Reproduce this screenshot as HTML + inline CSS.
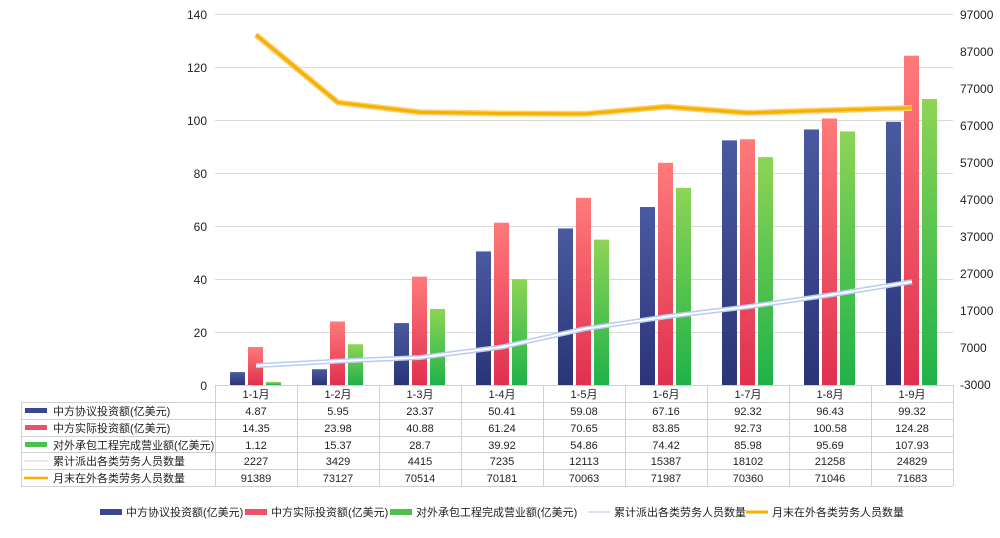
<!DOCTYPE html>
<html><head><meta charset="utf-8"><style>
body{margin:0;background:#fff;}
svg{display:block;font-family:"Liberation Sans","Noto Sans CJK SC",sans-serif;}
</style></head><body>
<svg width="1000" height="538" viewBox="0 0 1000 538" xmlns="http://www.w3.org/2000/svg">
<defs>
<linearGradient id="gb" x1="0" y1="0" x2="0" y2="1"><stop offset="0" stop-color="#4a5aa0"/><stop offset="1" stop-color="#2a3478"/></linearGradient>
<linearGradient id="gr" x1="0" y1="0" x2="0" y2="1"><stop offset="0" stop-color="#ff7a7a"/><stop offset="1" stop-color="#e0304f"/></linearGradient>
<linearGradient id="gg" x1="0" y1="0" x2="0" y2="1"><stop offset="0" stop-color="#8ed455"/><stop offset="1" stop-color="#1fb24a"/></linearGradient>
</defs>
<g stroke="#d9d9d9" stroke-width="1">
<line x1="215" y1="14.5" x2="953" y2="14.5"/><line x1="215" y1="67.5" x2="953" y2="67.5"/><line x1="215" y1="120.5" x2="953" y2="120.5"/><line x1="215" y1="173.5" x2="953" y2="173.5"/><line x1="215" y1="226.5" x2="953" y2="226.5"/><line x1="215" y1="279.5" x2="953" y2="279.5"/><line x1="215" y1="332.5" x2="953" y2="332.5"/>
</g>
<g font-size="12" fill="#222" text-anchor="end">
<text x="207" y="19">140</text><text x="207" y="72">120</text><text x="207" y="125">100</text><text x="207" y="178">80</text><text x="207" y="231">60</text><text x="207" y="284">40</text><text x="207" y="337">20</text><text x="207" y="390">0</text>
</g>
<g font-size="12" fill="#222" text-anchor="start">
<text x="960" y="19">97000</text><text x="960" y="56">87000</text><text x="960" y="93">77000</text><text x="960" y="130">67000</text><text x="960" y="167">57000</text><text x="960" y="204">47000</text><text x="960" y="241">37000</text><text x="960" y="278">27000</text><text x="960" y="315">17000</text><text x="960" y="352">7000</text><text x="960" y="389">-3000</text>
</g>
<g id="bars"></g>
<polyline fill="none" stroke="#fbd070" stroke-width="6" stroke-linejoin="round" id="yl2"/>
<polyline fill="none" stroke="#f6b000" stroke-width="3" stroke-linejoin="round" id="yl"/>
<polyline fill="none" stroke="#b8cdf0" stroke-width="5" stroke-linejoin="round" id="wl2"/>
<polyline fill="none" stroke="#ffffff" stroke-width="2" stroke-linejoin="round" id="wl"/>
<g id="tbl" font-size="11" fill="#222"></g>
<g font-size="11" fill="#222">
<rect x="100" y="509" width="22" height="6" fill="#3a4690"/><text x="126" y="516">中方协议投资额(亿美元)</text>
<rect x="245" y="509" width="22" height="6" fill="#f0506a"/><text x="271" y="516">中方实际投资额(亿美元)</text>
<rect x="390" y="509" width="22" height="6" fill="#4cc24c"/><text x="416" y="516">对外承包工程完成营业额(亿美元)</text>
<line x1="588" y1="512" x2="610" y2="512" stroke="#dde4ef" stroke-width="2"/><text x="614" y="516">累计派出各类劳务人员数量</text>
<line x1="746" y1="512" x2="768" y2="512" stroke="#fbb000" stroke-width="3"/><text x="772" y="516">月末在外各类劳务人员数量</text>
</g>
<script>
var a=[4.87,5.95,23.37,50.41,59.08,67.16,92.32,96.43,99.32],b=[14.35,23.98,40.88,61.24,70.65,83.85,92.73,100.58,124.28],c=[1.12,15.37,28.7,39.92,54.86,74.42,85.98,95.69,107.93],d=[2227,3429,4415,7235,12113,15387,18102,21258,24829],e=[91389,73127,70514,70181,70063,71987,70360,71046,71683];
var ns="http://www.w3.org/2000/svg",W=82,X0=215;
function el(t,at,p,tx){var n=document.createElementNS(ns,t);for(var k in at)n.setAttribute(k,at[k]);if(tx!=null)n.textContent=tx;p.appendChild(n);return n;}
var g=document.getElementById('bars');
function ly(v){return 385-v*371/140;}function ry(v){return 385-(v+3000)*371/100000;}
var yp=[],wp=[];
for(var i=0;i<9;i++){var cx=X0+W*i+W/2;
[[a,'gb',-26],[b,'gr',-8],[c,'gg',10]].forEach(function(s){var v=s[0][i],y=ly(v);el('rect',{x:cx+s[2],y:y,width:15,height:385-y,fill:'url(#'+s[1]+')'},g);});
yp.push(cx+','+ry(e[i]));wp.push(cx+','+ry(d[i]));}
['yl','yl2'].forEach(function(id){document.getElementById(id).setAttribute('points',yp.join(' '));});
document.getElementById('wl').setAttribute('points',wp.join(' '));
document.getElementById('wl2').setAttribute('points',wp.join(' '));
var t=document.getElementById('tbl');
var rows=[385,402,419,436,452,469,486];
el('line',{x1:215,y1:385.5,x2:953,y2:385.5,stroke:'#d0d0d0'},t);
for(var r=1;r<7;r++)el('line',{x1:21,y1:rows[r]+.5,x2:953,y2:rows[r]+.5,stroke:'#d0d0d0'},t);
el('line',{x1:21.5,y1:402,x2:21.5,y2:486,stroke:'#d0d0d0'},t);
for(var i=0;i<=9;i++)el('line',{x1:X0+W*i+.5,y1:385,x2:X0+W*i+.5,y2:486,stroke:'#d0d0d0'},t);
var names=['中方协议投资额(亿美元)','中方实际投资额(亿美元)','对外承包工程完成营业额(亿美元)','累计派出各类劳务人员数量','月末在外各类劳务人员数量'];
var data=[a,b,c,d,e];
for(var i=0;i<9;i++)el('text',{x:X0+W*i+W/2,y:398,'text-anchor':'middle'},t,'1-'+(i+1)+'月');
for(var r=0;r<5;r++){var y=rows[r+1]+13;
if(r<3)el('rect',{x:25,y:y-7,width:22,height:5,fill:['#3a4690','#f0506a','#4cc24c'][r]},t);
else if(r==3)el('line',{x1:24,y1:y-4,x2:48,y2:y-4,stroke:'#e4e8ef',"stroke-width":2},t);
else el('line',{x1:24,y1:y-4,x2:48,y2:y-4,stroke:'#fbb000',"stroke-width":2.5},t);
el('text',{x:53,y:y},t,names[r]);
for(var i=0;i<9;i++)el('text',{x:X0+W*i+W/2,y:y,'text-anchor':'middle'},t,String(data[r][i]));}
</script>
</svg>
</body></html>
